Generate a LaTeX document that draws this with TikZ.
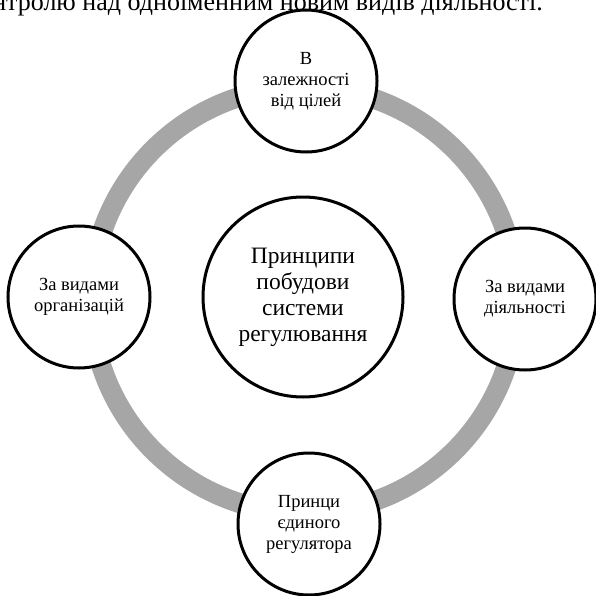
\documentclass[tikz,border=0pt]{standalone}
\usepackage{fontspec}
\setmainfont{Liberation Serif}
\usepackage{tikz}
\usetikzlibrary{positioning}

\begin{document}
\begin{tikzpicture}[x=1pt,y=1pt,
  ring/.style={draw=black!35,line width=20pt},
  hub/.style={circle,draw=black,line width=3pt,fill=white,minimum size=200pt,inner sep=0pt,align=center,font=\rmfamily\fontsize{23.5}{26}\selectfont},
  sat/.style={circle,draw=black,line width=3pt,fill=white,minimum size=142pt,inner sep=0pt,align=center,font=\rmfamily\fontsize{18.5}{21}\selectfont}]
\useasboundingbox (0,0) rectangle (595,-596);
\node (head) [anchor=base east,inner sep=0pt,font=\rmfamily\fontsize{26}{30}\selectfont] at (543,-11) {контролю над одноіменним новим видів діяльності.};
\coordinate (o) at (304,-300);
\draw [ring] (o) circle (213);
\node (hub) [hub] at (303,-297) {Принципи\\побудови\\системи\\регулювання};
\node (goal) [sat] at (306,-81) {В\\залежності\\від цілей};
\node (org) [sat] at (79,-297) {За видами\\організацій};
\node (act) [sat] at (525,-299) {За видами\\діяльності};
\node (reg) [sat] at (309,-524) {Принци\\єдиного\\регулятора};
\end{tikzpicture}
\end{document}
